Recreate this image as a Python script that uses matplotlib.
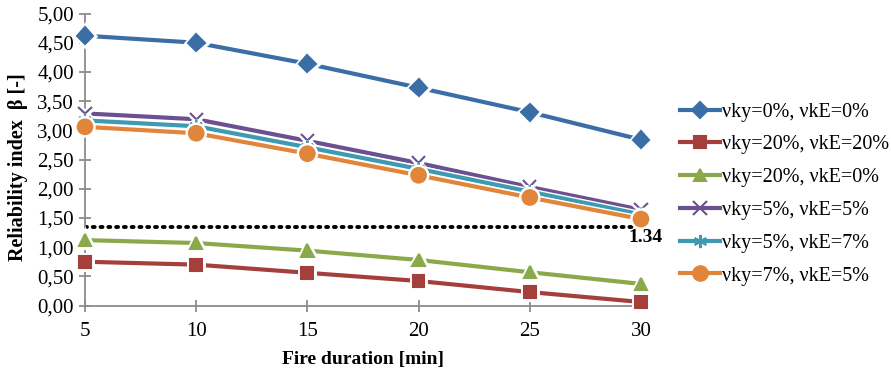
import matplotlib.pyplot as plt
import matplotlib.patheffects as pe

plt.rcParams['font.family'] = ['Liberation Serif', 'DejaVu Serif']

# Data
duration = [5, 10, 15, 20, 25, 30]
labels = ["νky=0%, νkE=0%", "νky=20%, νkE=20%", "νky=20%, νkE=0%",
          "νky=5%, νkE=5%", "νky=5%, νkE=7%", "νky=7%, νkE=5%"]
beta_0_0 = [4.62, 4.50, 4.14, 3.73, 3.31, 2.84]
beta_20_20 = [0.75, 0.70, 0.56, 0.42, 0.23, 0.06]
beta_20_0 = [1.12, 1.07, 0.94, 0.78, 0.57, 0.37]
beta_5_5 = [3.29, 3.19, 2.82, 2.44, 2.03, 1.64]
beta_5_7 = [3.17, 3.07, 2.71, 2.34, 1.95, 1.56]
beta_7_5 = [3.06, 2.95, 2.60, 2.23, 1.85, 1.48]
beta_target = 1.34

series = [beta_0_0, beta_20_20, beta_20_0, beta_5_5, beta_5_7, beta_7_5]
colors = ["#3B6EA6", "#A53F3C", "#8AA94A", "#6B5192", "#3D9AB0", "#E0853A"]
markers = ["D", "s", "^", "x", (6, 2, 0), "o"]
msizes = [8.5, 8.5, 9, 9.5, 9.5, 10.5]

fig = plt.figure(figsize=(8.91, 3.71), dpi=100)
ax = fig.add_axes([0.0954, 0.1765, 0.624, 0.787])

outline = [pe.Stroke(linewidth=5, foreground="white"), pe.Normal()]
for y, lab, c, m, ms in zip(series, labels, colors, markers, msizes):
    ax.plot(duration, y, color=c, lw=3, marker=m, ms=ms, mec=c, mew=1.5,
            label=lab, path_effects=outline, clip_on=False, zorder=3)

# Target reliability line
ax.plot([duration[0], duration[-1]], [beta_target, beta_target], color="black",
        lw=2.8, linestyle=(0, (0.5, 1.5)), dash_capstyle="round", zorder=2)
ax.text(duration[-1] - 0.55, beta_target - 0.03, "1.34", fontsize=14,
        fontweight="bold", ha="left", va="top", zorder=4)

ax.set_xlim(5, 30)
ax.set_ylim(0, 5)
ax.set_xticks(duration)
ax.set_yticks([i * 0.5 for i in range(11)])
ax.set_yticklabels([f"{i * 0.5:.2f}".replace(".", ",") for i in range(11)])
ax.tick_params(direction="inout", length=8, width=1.3, color="#8c8c8c",
               labelsize=15, pad=4)
ax.tick_params(axis="x", pad=8)
for s in ["top", "right"]:
    ax.spines[s].set_visible(False)
for s in ["left", "bottom"]:
    ax.spines[s].set_color("#8c8c8c")
    ax.spines[s].set_linewidth(1.3)

ax.set_xlabel("Fire duration [min]", fontsize=14, fontweight="bold", labelpad=7)
ax.set_ylabel("Reliability index  β [-]", fontsize=14.5, fontweight="bold")
ax.yaxis.set_label_coords(-0.103, 0.475)

leg = ax.legend(loc="center left", bbox_to_anchor=(1.055, 0.382), frameon=False,
                fontsize=14.5, handlelength=2.0, handletextpad=0.1,
                labelspacing=0.68, borderaxespad=0)
for line in leg.get_lines():
    line.set_path_effects([])

fig.savefig("out.png", dpi=100)
